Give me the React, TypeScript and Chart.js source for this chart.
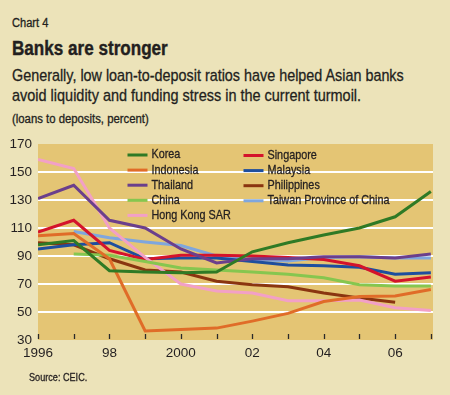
import React, { useEffect, useLayoutEffect, useRef } from "react";
import { Chart, registerables } from "chart.js";

Chart.register(...registerables);

const years = [1996, 1997, 1998, 1999, 2000, 2001, 2002, 2003, 2004, 2005, 2006, 2007];
const korea = [98, 101, 79.5, 78.5, 78, 78.5, 93, 99.5, 105, 110, 118, 136];
const indonesia = [104.5, 106, 88, 36.5, 37.5, 38.5, 43.5, 49, 57.5, 61, 61.5, 66];
const thailand = [131, 140.5, 115.5, 110, 95, 85, 88, 88, 89.5, 89.5, 88.5, 91.5];
const china = [null, 91.5, 90.5, 86, 81.5, 80, 78.5, 77, 74.5, 69.5, 68.5, 68.5];
const hongKong = [159, 152.5, 110, 89, 70, 65, 63.5, 58, 58, 58.5, 53, 51];
const singapore = [107, 115.5, 94, 87.5, 90.5, 90.5, 90, 89, 87.5, 83, 72, 75];
const malaysia = [95, 98, 99.5, 88, 88.5, 88.5, 86, 83.5, 83, 82, 77, 78];
const philippines = [99.5, 98, 88, 80, 78.5, 72, 69.5, 68, 63.5, 60, 57, null];
const taiwan = [null, 107.5, 103, 100, 97.5, 90, 87.5, 86.5, 89, 89.5, 88.5, 88.5];

const seriesNames = [
  "Korea",
  "Indonesia",
  "Thailand",
  "China",
  "Hong Kong SAR",
  "Singapore",
  "Malaysia",
  "Philippines",
  "Taiwan Province of China",
];
const seriesValues = [korea, indonesia, thailand, china, hongKong, singapore, malaysia, philippines, taiwan];
const seriesColors = [
  "#2f7a25",
  "#e06c28",
  "#6b3f8c",
  "#86c64f",
  "#f2a0c6",
  "#d4132b",
  "#1e4e9e",
  "#8a3510",
  "#7fa6dd",
];

const xLabelYears = [1996, 1998, 2000, 2002, 2004, 2006];
const xLabels = ["1996", "98", "2000", "02", "04", "06"];
const yMin = 30;
const yMax = 170;
const yStep = 20;

const FONT = "'Liberation Sans', Arial, sans-serif";
const INK = "#231f20";
const PAGE_BG = "#ece3b9";
const PLOT_BG = "#e4c574";

const bgPlugin = {
  id: "plotBg",
  beforeDraw(chart: any) {
    const { ctx, chartArea } = chart;
    ctx.save();
    ctx.fillStyle = PLOT_BG;
    ctx.fillRect(chartArea.left, chartArea.top, chartArea.right - chartArea.left, chartArea.bottom - chartArea.top);
    ctx.restore();
  },
};

const tickMarkPlugin = {
  id: "innerTicks",
  afterDatasetsDraw(chart: any) {
    const { ctx, chartArea } = chart;
    const xs = chart.scales.x;
    ctx.save();
    ctx.strokeStyle = "#2a2a2a";
    ctx.lineWidth = 1.3;
    xs.ticks.forEach((t: any) => {
      if (!Number.isInteger(t.value)) return;
      const px = Math.round(xs.getPixelForValue(t.value)) + 0.5;
      ctx.beginPath();
      ctx.moveTo(px, chartArea.bottom - 6);
      ctx.lineTo(px, chartArea.bottom - 1);
      ctx.stroke();
    });
    ctx.restore();
  },
};

const legendPlugin = {
  id: "twoColLegend",
  afterDatasetsDraw(chart: any) {
    const ctx = chart.ctx;
    ctx.save();
    ctx.font = `12.6px ${FONT}`;
    ctx.textBaseline = "middle";
    ctx.textAlign = "left";
    const k = 122 / ctx.measureText("Taiwan Province of China").width;
    chart.data.datasets.forEach((ds: any, i: number) => {
      const col = i < 5 ? 0 : 1;
      const row = col === 0 ? i : i - 5;
      const lx = col === 0 ? 127.5 : 243.5;
      const y = (col === 0 ? 155 : 155.5) + row * 15.1;
      ctx.strokeStyle = ds.borderColor;
      ctx.lineWidth = 3;
      ctx.beginPath();
      ctx.moveTo(lx, y);
      ctx.lineTo(lx + 20, y);
      ctx.stroke();
      ctx.save();
      ctx.translate(lx + 24, y);
      ctx.scale(k, 1);
      ctx.fillStyle = INK;
      ctx.strokeStyle = INK;
      ctx.lineWidth = 0.3;
      ctx.fillText(ds.label, 0, 0);
      ctx.strokeText(ds.label, 0, 0);
      ctx.restore();
    });
    ctx.restore();
  },
};

function FitText(props: {
  text: string;
  left: number;
  top: number;
  size: number;
  width: number;
  bold?: boolean;
}) {
  const ref = useRef<HTMLSpanElement | null>(null);
  useLayoutEffect(() => {
    const el = ref.current;
    if (!el) return;
    const w = el.offsetWidth;
    if (w > 0) el.style.transform = `scaleX(${props.width / w})`;
  }, [props.text, props.width]);
  return (
    <span
      ref={ref}
      style={{
        position: "absolute",
        left: props.left,
        top: props.top,
        fontFamily: FONT,
        fontSize: props.size,
        lineHeight: `${Math.round(props.size * 1.2)}px`,
        fontWeight: props.bold ? "bold" : "normal",
        color: INK,
        whiteSpace: "nowrap",
        display: "inline-block",
        transformOrigin: "0 0",
        WebkitTextStroke: props.bold ? "0.4px #231f20" : "0.3px #231f20",
      }}
    >
      {props.text}
    </span>
  );
}

export default function App() {
  const canvasRef = useRef<HTMLCanvasElement | null>(null);

  useEffect(() => {
    document.body.style.margin = "0";
    const canvas = canvasRef.current;
    if (!canvas) return;
    const chart = new Chart(canvas, {
      type: "line",
      data: {
        datasets: seriesNames.map((name, i) => ({
          label: name,
          data: years.map((yr, j) => ({ x: yr, y: seriesValues[i][j] })),
          borderColor: seriesColors[i],
          backgroundColor: seriesColors[i],
          borderWidth: 3,
          pointRadius: 0,
          tension: 0,
          fill: false,
          spanGaps: false,
        })),
      },
      options: {
        animation: false,
        responsive: false,
        devicePixelRatio: 1,
        layout: { padding: { top: 144, right: 17, bottom: 0, left: 0 } },
        plugins: {
          legend: { display: false },
          tooltip: { enabled: false },
        },
        scales: {
          x: {
            type: "linear",
            min: 1996,
            max: 2007.06,
            border: { display: false },
            grid: { display: false, drawTicks: false },
            ticks: {
              stepSize: 1,
              autoSkip: false,
              includeBounds: false,
              maxRotation: 0,
              padding: 5,
              color: INK,
              font: { family: FONT, size: 13.5 },
              callback: (v: any) => {
                const k = xLabelYears.indexOf(Number(v));
                return k >= 0 ? xLabels[k] : "";
              },
            },
            afterFit: (s: any) => {
              s.height = 55;
            },
          },
          y: {
            min: yMin,
            max: yMax,
            border: { display: false },
            grid: {
              drawTicks: false,
              lineWidth: 2,
              color: (c: any) =>
                c.tick && (c.tick.value === yMin || c.tick.value === yMax) ? "rgba(0,0,0,0)" : "#ffffff",
            },
            ticks: {
              stepSize: yStep,
              padding: 6,
              color: INK,
              font: { family: FONT, size: 13.5 },
            },
            afterFit: (s: any) => {
              s.width = 38;
            },
          },
        },
      },
      plugins: [bgPlugin, tickMarkPlugin, legendPlugin],
    });
    return () => chart.destroy();
  }, []);

  return (
    <div style={{ position: "relative", width: 450, height: 395, background: PAGE_BG, overflow: "hidden" }}>
      <FitText text="Chart 4" left={12} top={15.5} size={12} width={36} />
      <FitText text="Banks are stronger" left={12} top={37.4} size={19.5} width={156} bold />
      <FitText
        text="Generally, low loan-to-deposit ratios have helped Asian banks"
        left={12}
        top={65.6}
        size={17}
        width={392}
      />
      <FitText
        text="avoid liquidity and funding stress in the current turmoil."
        left={12}
        top={86.4}
        size={17}
        width={349}
      />
      <FitText text="(loans to deposits, percent)" left={12} top={111.5} size={12} width={137} />
      <canvas
        ref={canvasRef}
        width={450}
        height={395}
        style={{ position: "absolute", left: 0, top: 0, width: 450, height: 395 }}
      />
      <FitText text="Source: CEIC." left={29} top={371} size={11} width={58} />
    </div>
  );
}
